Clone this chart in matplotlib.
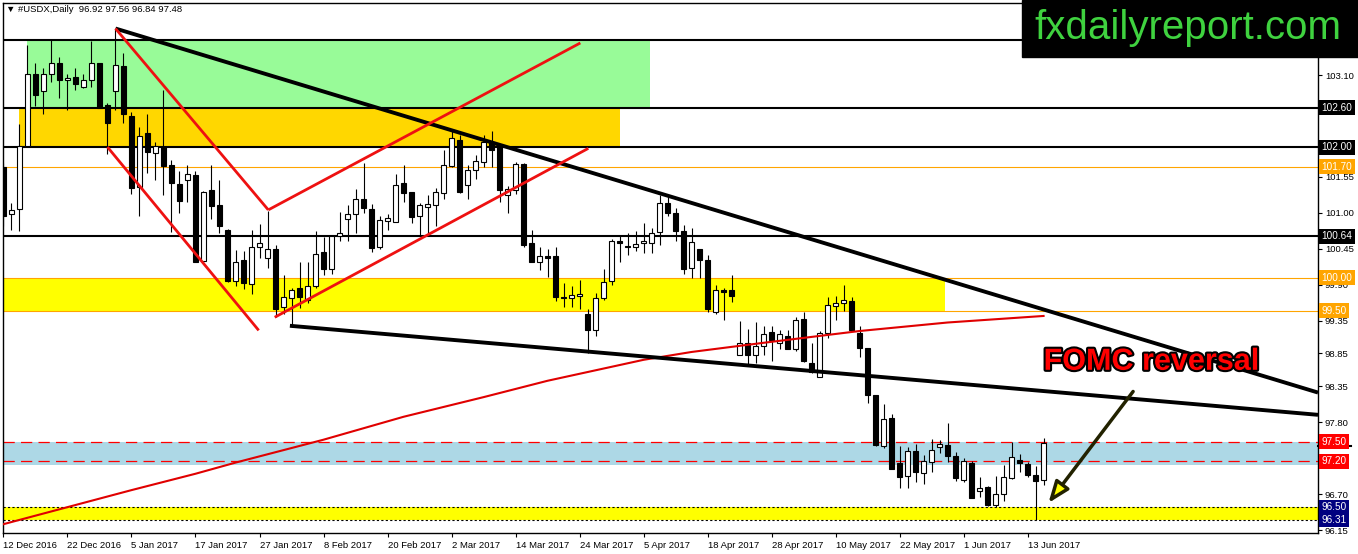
import matplotlib
matplotlib.use('Agg')
import matplotlib.pyplot as plt
import matplotlib.patheffects as pe
import matplotlib.transforms as mtransforms
from matplotlib.patches import Rectangle

# daily USDX candles, 12 Dec 2016 .. 15 Jun 2017
opens = [101.70, 100.98, 101.05, 102.01, 103.12, 102.85, 103.12, 103.29, 103.02, 103.07,
         102.92, 103.03, 103.29, 102.64, 102.86, 103.24, 102.48, 101.39, 102.22, 101.91,
         102.00, 101.72, 101.44, 101.50, 101.58, 100.26, 101.34, 101.11, 100.74, 99.96,
         100.27, 99.91, 100.47, 100.31, 100.44, 99.56, 99.69, 99.84, 99.67, 99.88,
         100.39, 100.14, 100.64, 100.90, 100.98, 101.20, 101.06, 100.47, 100.87, 100.86,
         101.45, 101.31, 100.95, 101.08, 101.12, 101.30, 101.71, 102.11, 101.42, 101.65,
         101.77, 102.08, 102.02, 101.26, 101.35, 101.74, 100.54, 100.25, 100.33, 100.33,
         99.71, 99.70, 99.73, 99.45, 99.20, 99.70, 99.95, 100.56, 100.49, 100.48,
         100.53, 100.54, 100.70, 101.14, 101.00, 100.71, 100.16, 100.45, 100.28, 99.48,
         99.82, 99.81, 98.83, 99.01, 98.83, 98.96, 99.17, 99.00, 99.12, 98.92,
         99.37, 98.70, 98.49, 99.16, 99.57, 99.62, 99.65, 99.16, 98.93, 98.22,
         97.43, 97.86, 97.18, 96.97, 97.35, 97.02, 97.19, 97.42, 97.45, 97.28,
         96.92, 97.18, 96.74, 96.81, 96.53, 96.70, 96.95, 97.22, 97.16, 96.99,
         96.92]
highs = [101.75, 101.15, 102.35, 103.56, 103.28, 103.20, 103.63, 103.38, 103.12, 103.21,
         103.12, 103.62, 103.29, 102.67, 103.81, 103.44, 102.54, 102.30, 102.51, 102.08,
         102.87, 101.80, 101.64, 101.72, 101.64, 101.33, 101.72, 101.49, 100.75, 100.42,
         100.41, 100.73, 100.82, 101.02, 100.51, 100.05, 99.85, 100.25, 100.25, 100.71,
         100.63, 100.66, 101.01, 101.11, 101.36, 101.76, 101.13, 100.95, 100.97, 101.59,
         101.72, 101.31, 101.15, 101.27, 101.38, 101.95, 102.24, 102.18, 101.73, 101.88,
         102.18, 102.24, 102.05, 101.40, 101.77, 101.76, 100.73, 100.47, 100.45, 100.47,
         99.93, 99.88, 99.97, 99.52, 99.77, 100.13, 100.59, 100.66, 100.68, 100.72,
         100.84, 100.77, 101.26, 101.28, 101.07, 100.81, 100.76, 100.45, 100.35, 99.90,
         99.85, 100.04, 99.34, 99.22, 99.33, 99.26, 99.26, 99.21, 99.21, 99.41,
         99.48, 99.00, 99.19, 99.71, 99.73, 99.90, 99.71, 99.27, 98.93, 98.22,
         98.07, 97.92, 97.44, 97.42, 97.47, 97.29, 97.54, 97.52, 97.78, 97.34,
         97.25, 97.21, 96.96, 96.83, 96.98, 97.15, 97.49, 97.31, 97.19, 97.13,
         97.56]
lows = [100.80, 100.74, 100.72, 102.00, 102.62, 102.51, 103.00, 102.75, 102.57, 102.87,
        102.90, 102.92, 102.60, 101.90, 102.57, 102.37, 101.29, 100.94, 101.60, 101.50,
        101.27, 100.70, 100.99, 101.16, 100.24, 100.25, 100.90, 100.68, 99.94, 99.88,
        99.83, 99.76, 100.31, 100.15, 99.40, 99.45, 99.25, 99.54, 99.62, 99.84,
        100.04, 100.06, 100.56, 100.56, 100.69, 100.99, 100.40, 100.44, 100.73, 100.86,
        101.16, 100.84, 100.64, 100.67, 100.79, 101.21, 101.70, 101.30, 101.20, 101.51,
        101.69, 101.69, 101.16, 100.99, 101.29, 100.47, 100.25, 100.12, 100.02, 99.65,
        99.55, 99.56, 99.53, 98.86, 99.12, 99.67, 99.90, 100.25, 100.35, 100.41,
        100.38, 100.38, 100.51, 100.95, 100.57, 100.06, 100.00, 100.00, 99.48, 99.45,
        99.36, 99.64, 98.83, 98.69, 98.70, 98.82, 98.73, 98.91, 98.91, 98.89,
        98.72, 98.55, 98.49, 99.08, 99.36, 99.49, 99.19, 98.79, 98.09, 97.43,
        97.41, 97.09, 96.79, 96.79, 96.88, 96.86, 97.03, 97.32, 97.19, 96.90,
        96.89, 96.64, 96.66, 96.51, 96.50, 96.60, 96.93, 97.03, 96.96, 96.31,
        96.84]
closes = [100.95, 101.04, 102.02, 103.12, 102.80, 103.12, 103.29, 103.02, 103.06, 102.96,
          103.02, 103.28, 102.60, 102.37, 103.26, 102.50, 101.37, 102.17, 101.92, 102.02,
          101.71, 101.45, 101.18, 101.59, 100.25, 101.32, 101.10, 100.79, 99.95, 100.25,
          99.92, 100.47, 100.53, 100.45, 99.53, 99.71, 99.82, 99.71, 99.87, 100.37,
          100.14, 100.64, 100.69, 100.97, 101.20, 101.07, 100.46, 100.88, 100.92, 101.42,
          101.30, 100.93, 101.11, 101.13, 101.32, 101.72, 102.14, 101.32, 101.65, 101.79,
          102.07, 101.96, 101.35, 101.36, 101.74, 100.50, 100.25, 100.33, 100.31, 99.71,
          99.69, 99.74, 99.76, 99.21, 99.69, 99.94, 100.56, 100.54, 100.48, 100.52,
          100.57, 100.68, 101.14, 100.99, 100.71, 100.14, 100.55, 100.28, 99.52, 99.81,
          99.79, 99.72, 99.01, 98.83, 98.96, 99.14, 99.06, 99.14, 98.92, 99.36,
          98.73, 98.56, 99.16, 99.59, 99.62, 99.67, 99.20, 98.93, 98.22, 97.45,
          97.85, 97.09, 96.96, 97.35, 97.03, 97.21, 97.37, 97.46, 97.28, 96.94,
          97.21, 96.64, 96.79, 96.53, 96.70, 96.96, 97.27, 97.17, 96.99, 96.90,
          97.48]

date_labels = ['12 Dec 2016', '22 Dec 2016', '5 Jan 2017', '17 Jan 2017', '27 Jan 2017',
               '8 Feb 2017', '20 Feb 2017', '2 Mar 2017', '14 Mar 2017', '24 Mar 2017',
               '5 Apr 2017', '18 Apr 2017', '28 Apr 2017', '10 May 2017', '22 May 2017',
               '1 Jun 2017', '13 Jun 2017']
price_ticks = [103.10, 102.55, 102.00, 101.55, 101.00, 100.45, 99.90, 99.35,
               98.85, 98.35, 97.80, 97.25, 96.70, 96.15]

# moving average (red curve), read at a few bars
ma_bars = [0, 8, 16, 24, 29, 40, 50, 60, 68, 80, 86, 95, 107, 118, 130]
ma_vals = [96.24, 96.50, 96.76, 97.01, 97.18, 97.53, 97.88, 98.18, 98.43, 98.75,
           98.87, 99.01, 99.19, 99.32, 99.42]

# levels
black_levels = [103.64, 102.60, 102.00, 100.64]
orange_levels = [101.70, 100.00, 99.50]
red_dash_levels = [97.50, 97.20]
dotted_levels = [96.50, 96.31]

# trend lines (bar, price) pairs
black_trends = [((14, 103.81), (164.3, 98.25)), ((35.8, 99.27), (164.3, 97.91))]
red_trends = [((14, 103.81), (33.1, 101.04)), ((33.1, 101.04), (72.1, 103.59)),
              ((13, 102.00), (31.9, 99.20)), ((33.9, 99.40), (73.1, 101.98))]

# price labels on the right axis
box_labels = [(102.60, 'black'), (102.00, 'black'), (101.70, '#FFA500'), (100.64, 'black'),
              (100.00, '#FFA500'), (99.50, '#FFA500'), (97.50, '#FF0000'), (97.20, '#FF0000'),
              (96.50, '#000080'), (96.31, '#000080')]

plt.rcParams['font.family'] = ['Liberation Sans', 'DejaVu Sans']

W, H = 1358, 554
fig = plt.figure(figsize=(W / 100, H / 100), dpi=100)
fig.patch.set_facecolor('white')
ax = fig.add_axes([3 / W, 21 / H, 1315 / W, 530 / H])
ax.set_xlim(-0.06, 164.3)
ax.set_ylim(96.105, 104.20)

# zones
ax.add_patch(Rectangle((2.9, 102.60), 77.9, 1.04, color='#98FB98', zorder=1, lw=0))
ax.add_patch(Rectangle((1.9, 102.00), 75.2, 0.60, color='#FFD700', zorder=1, lw=0))
ax.add_patch(Rectangle((-1, 99.50), 118.7, 0.50, color='#FFFF00', zorder=1, lw=0))
ax.axhspan(97.15, 97.50, color='#ADD8E6', zorder=1, lw=0)
ax.axhspan(96.31, 96.50, color='#FFFF00', zorder=1, lw=0)

for p in black_levels:
    ax.axhline(p, color='black', lw=1.5, zorder=2)
for p in orange_levels:
    ax.axhline(p, color='#FFA500', lw=0.8, zorder=2)
for p in red_dash_levels:
    ax.axhline(p, color='#FF0000', lw=0.9, ls=(0, (9, 5)), zorder=2)
for p in dotted_levels:
    ax.axhline(p, color='black', lw=0.8, ls=(0, (2, 2)), zorder=2)

# candles
bars = list(range(len(opens)))
ax.vlines(bars, lows, highs, color='black', lw=0.8, zorder=3)
for i in bars:
    o, c = opens[i], closes[i]
    up = c >= o
    ax.bar(i, max(abs(c - o), 0.012), bottom=min(o, c), width=0.62,
           color='white' if up else 'black', edgecolor='black', lw=0.8, zorder=4)

ax.plot(ma_bars, ma_vals, color='#E00000', lw=1.5, zorder=5)

for (x0, y0), (x1, y1) in black_trends:
    ax.plot([x0, x1], [y0, y1], color='black', lw=2.8, zorder=6, solid_capstyle='butt')
for (x0, y0), (x1, y1) in red_trends:
    ax.plot([x0, x1], [y0, y1], color='#EE1111', lw=2.0, zorder=6, solid_capstyle='butt')

# annotation
ax.text(130.0, 98.72, 'FOMC reversal', fontsize=22, fontweight='bold', color='#FF0000',
        va='center', ha='left', zorder=8,
        path_effects=[pe.withStroke(linewidth=3, foreground='black')])
ax.annotate('', xy=(130.4, 96.53), xytext=(141.4, 98.30), zorder=8,
            arrowprops=dict(arrowstyle='-|>,head_length=1.3,head_width=0.5',
                            fc='#FFFF00', ec='#222200', lw=2.5))

# axes styling
ax.yaxis.tick_right()
ax.set_yticks(price_ticks)
ax.set_yticklabels([f'{p:.2f}' for p in price_ticks])
ax.tick_params(axis='y', labelsize=6.8, length=3, pad=2, direction='out')
ax.set_xticks(range(0, 8 * len(date_labels), 8))
ax.set_xticklabels(date_labels, ha='left')
ax.tick_params(axis='x', labelsize=6.8, length=3, pad=3, direction='out')
for s in ax.spines.values():
    s.set_linewidth(1.0)

trans = mtransforms.blended_transform_factory(ax.transAxes, ax.transData)
for p, col in box_labels:
    ax.text(1.0025, p, f'{p:.2f}', transform=trans, fontsize=7.2, color='white', va='center',
            ha='left', zorder=10, clip_on=False,
            bbox=dict(facecolor=col, edgecolor='none', pad=1.8))
ax.plot([1.0, 1.025], [97.43, 97.43], transform=trans, color='black', lw=1.5, clip_on=False)

fig.text(6 / W, 1 - 10 / H, '\u25bc #USDX,Daily  96.92 97.56 96.84 97.48', fontsize=6.8,
         va='center', ha='left')

# site banner
fig.patches.append(Rectangle((1022 / W, 1 - 57 / H), 336 / W, 57 / H,
                             transform=fig.transFigure, color='black', zorder=20))
fig.text(1188 / W, 1 - 28 / H, 'fxdailyreport.com', fontsize=29, color='#3FD23F',
         ha='center', va='center', zorder=21)

fig.savefig('out.png', dpi=100)
